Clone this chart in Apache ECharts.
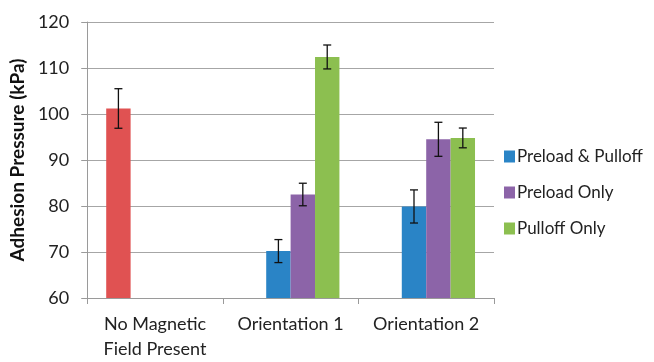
<!DOCTYPE html>
<html>
<head>
<meta charset="utf-8">
<script src="https://cdn.jsdelivr.net/npm/echarts@6/dist/echarts.min.js"></script>
<style>html,body{margin:0;padding:0;background:#fff;}#c{width:654px;height:362px;}</style>
</head>
<body>
<div id="c"></div>
<script>
var categories = ['No Magnetic\nField Present', 'Orientation 1', 'Orientation 2'];
var seriesNames = ['No Magnetic Field', 'Preload & Pulloff', 'Preload Only', 'Pulloff Only'];
var noFieldValues = [101.2, null, null];
var preloadPulloffValues = [null, 70.2, 79.9];
var preloadOnlyValues = [null, 82.5, 94.5];
var pulloffOnlyValues = [null, 112.4, 94.8];
var noFieldErr = [4.3, null, null];
var preloadPulloffErr = [null, 2.5, 3.6];
var preloadOnlyErr = [null, 2.45, 3.7];
var pulloffOnlyErr = [null, 2.6, 2.15];
var yTicks = [60, 70, 80, 90, 100, 110, 120];
var colors = ['#E05252', '#2A84C6', '#8C64A8', '#8CBF50'];

var allValues = [noFieldValues, preloadPulloffValues, preloadOnlyValues, pulloffOnlyValues];
var allErrs = [noFieldErr, preloadPulloffErr, preloadOnlyErr, pulloffOnlyErr];
var catGap = 0.28;
var nSeries = allValues.length;

var errData = [];
allValues.forEach(function (vals, s) {
  vals.forEach(function (v, c) {
    if (v != null && allErrs[s][c] != null) {
      errData.push([c, v - allErrs[s][c], v + allErrs[s][c], s]);
    }
  });
});

var series = allValues.map(function (vals, s) {
  return {
    name: seriesNames[s],
    type: 'bar',
    data: vals.map(function (v) { return v == null ? '-' : v; }),
    barGap: '0%',
    barCategoryGap: (catGap * 100) + '%',
    itemStyle: { color: colors[s] },
    emphasis: { disabled: true },
    animation: false
  };
});

series.push({
  type: 'custom',
  name: 'err',
  animation: false,
  silent: true,
  data: errData,
  z: 10,
  renderItem: function (params, api) {
    var c = api.value(0);
    var lo = api.coord([c, api.value(1)]);
    var hi = api.coord([c, api.value(2)]);
    var s = api.value(3);
    var band = api.size([1, 0])[0];
    var bw = band * (1 - catGap) / nSeries;
    var x = lo[0] + (s - (nSeries - 1) / 2) * bw;
    var cap = 4;
    var st = { stroke: '#111', lineWidth: 1.3 };
    return {
      type: 'group',
      children: [
        { type: 'line', shape: { x1: x, y1: lo[1], x2: x, y2: hi[1] }, style: st },
        { type: 'line', shape: { x1: x - cap, y1: lo[1], x2: x + cap, y2: lo[1] }, style: st },
        { type: 'line', shape: { x1: x - cap, y1: hi[1], x2: x + cap, y2: hi[1] }, style: st }
      ]
    };
  }
});

var chart = echarts.init(document.getElementById('c'));
chart.setOption({
  backgroundColor: '#fff',
  textStyle: { fontFamily: 'Lato' },
  grid: { left: 87, right: 160, top: 22, bottom: 62 },
  legend: {
    data: seriesNames.slice(1),
    orient: 'vertical',
    left: 499,
    top: 143,
    itemWidth: 11,
    itemHeight: 12,
    itemGap: 19,
    icon: 'rect',
    textStyle: { fontFamily: 'Lato', fontSize: 17, color: '#222', padding: [0, 0, 0, -3] }
  },
  xAxis: {
    type: 'category',
    data: categories,
    axisLine: { lineStyle: { color: '#9a9a9a', width: 1 } },
    axisTick: { show: true, length: 6, lineStyle: { color: '#9a9a9a' } },
    axisLabel: { interval: 0, fontFamily: 'Lato', fontSize: 18, color: '#222', lineHeight: 25, margin: 14 }
  },
  yAxis: {
    type: 'value',
    min: yTicks[0],
    max: yTicks[yTicks.length - 1],
    interval: 10,
    name: 'Adhesion Pressure (kPa)',
    nameLocation: 'middle',
    nameRotate: 90,
    nameGap: 58,
    nameTextStyle: { fontFamily: 'Lato', fontSize: 19, fontWeight: 'bold', color: '#111' },
    axisLine: { show: true, lineStyle: { color: '#9a9a9a', width: 1 } },
    axisTick: { show: true, length: 6, lineStyle: { color: '#9a9a9a' } },
    axisLabel: { fontFamily: 'Lato', fontSize: 18, color: '#222', margin: 18 },
    splitLine: { lineStyle: { color: '#a6a6a6', width: 1 } }
  },
  series: series
});
</script>
</body>
</html>
